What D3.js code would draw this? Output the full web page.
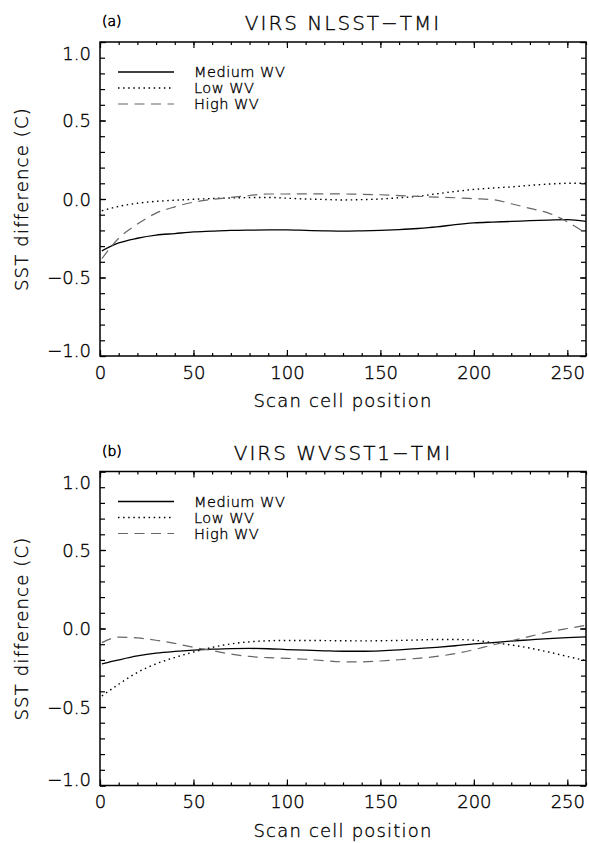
<!DOCTYPE html>
<html>
<head>
<meta charset="utf-8">
<script src="https://cdn.jsdelivr.net/npm/d3@7"></script>
<style>
  body { margin: 0; background: #fff; }
  svg text { font-family: "DejaVu Sans", "Liberation Sans", sans-serif; font-weight: 200; fill: #000; stroke: #000; stroke-width: 0.35px; }
</style>
</head>
<body>
<script>
// scan cell positions shared by every curve
var scanCells = [1, 10, 20, 30, 40, 50, 60, 70, 80, 90, 100, 110, 120, 130, 140, 150, 160, 170, 180, 190, 200, 210, 220, 230, 240, 250, 260];

// (a) VIRS NLSST-TMI
var nlsstMedium = [-0.33, -0.28, -0.25, -0.23, -0.22, -0.21, -0.205, -0.2, -0.198, -0.197, -0.197, -0.2, -0.203, -0.205, -0.203, -0.2, -0.195, -0.188, -0.178, -0.163, -0.152, -0.147, -0.143, -0.138, -0.134, -0.132, -0.143];
var nlsstLow = [-0.075, -0.047, -0.027, -0.015, -0.008, -0.002, 0.003, 0.007, 0.009, 0.01, 0.005, 0, -0.003, -0.006, -0.004, 0, 0.008, 0.017, 0.033, 0.048, 0.061, 0.07, 0.077, 0.087, 0.095, 0.1, 0.1];
var nlsstHigh = [-0.38, -0.25, -0.16, -0.09, -0.05, -0.02, -0.003, 0.01, 0.022, 0.032, 0.032, 0.033, 0.033, 0.032, 0.03, 0.027, 0.022, 0.017, 0.012, 0.008, 0.002, -0.004, -0.03, -0.06, -0.09, -0.145, -0.22];

// (b) VIRS WVSST1-TMI
var wvsstMedium = [-0.225, -0.2, -0.175, -0.157, -0.146, -0.138, -0.132, -0.128, -0.127, -0.129, -0.134, -0.138, -0.142, -0.145, -0.145, -0.142, -0.136, -0.128, -0.12, -0.11, -0.098, -0.09, -0.08, -0.072, -0.064, -0.058, -0.053];
var wvsstLow = [-0.43, -0.355, -0.28, -0.225, -0.185, -0.15, -0.12, -0.098, -0.085, -0.078, -0.076, -0.076, -0.077, -0.078, -0.079, -0.078, -0.076, -0.073, -0.07, -0.07, -0.075, -0.09, -0.105, -0.125, -0.15, -0.178, -0.205];
var wvsstHigh = [-0.09, -0.055, -0.06, -0.075, -0.095, -0.12, -0.14, -0.163, -0.178, -0.186, -0.19, -0.196, -0.205, -0.212, -0.212, -0.207, -0.199, -0.19, -0.178, -0.16, -0.135, -0.105, -0.078, -0.05, -0.022, 0, 0.02];

var legendNames = ["Medium WV", "Low WV", "High WV"];
var xMajorTicks = [0, 50, 100, 150, 200, 250];
var yMajorTicks = [-1.0, -0.5, 0.0, 0.5, 1.0];

var panels = [
  {tag: "(a)", title: "VIRS NLSST\u2212TMI", series: [nlsstMedium, nlsstLow, nlsstHigh], top: 42},
  {tag: "(b)", title: "VIRS WVSST1\u2212TMI", series: [wvsstMedium, wvsstLow, wvsstHigh], top: 471.5}
];

var styles = [
  {stroke: "#000", dash: null, width: 1.3},
  {stroke: "#000", dash: "1.5,3.6", width: 1.4},
  {stroke: "#666", dash: "10,6.5", width: 1.2}
];

var width = 589, height = 843;
var left = 100, plotW = 486, plotH = 314;

var svg = d3.select("body").append("svg").attr("width", width).attr("height", height);

var x = d3.scaleLinear().domain([0, 260]).range([0, plotW]);
var y = d3.scaleLinear().domain([-1, 1]).range([plotH, 0]);

var line = d3.line()
    .curve(d3.curveMonotoneX)
    .x(function(d){ return x(d[0]); })
    .y(function(d){ return y(d[1]); });

panels.forEach(function(p){
  var g = svg.append("g").attr("transform", "translate(" + left + "," + p.top + ")");

  // minor ticks
  g.append("g").call(d3.axisBottom(x).tickValues(d3.range(0, 261, 10)).tickSize(-3).tickSizeOuter(0).tickFormat(""))
    .attr("transform", "translate(0," + plotH + ")");
  g.append("g").call(d3.axisTop(x).tickValues(d3.range(0, 261, 10)).tickSize(-3).tickSizeOuter(0).tickFormat(""));
  g.append("g").call(d3.axisLeft(y).tickValues(d3.range(-10, 11).map(function(v){ return v / 10; })).tickSize(-5).tickSizeOuter(0).tickFormat(""));
  g.append("g").call(d3.axisRight(y).tickValues(d3.range(-10, 11).map(function(v){ return v / 10; })).tickSize(-5).tickSizeOuter(0).tickFormat(""))
    .attr("transform", "translate(" + plotW + ",0)");

  // major ticks + labels
  var xb = g.append("g").attr("transform", "translate(0," + plotH + ")")
    .call(d3.axisBottom(x).tickValues(xMajorTicks).tickSize(-6).tickSizeOuter(0).tickPadding(10).tickFormat(d3.format("d")));
  g.append("g").call(d3.axisTop(x).tickValues(xMajorTicks).tickSize(-6).tickSizeOuter(0).tickFormat(""));
  var yl = g.append("g")
    .call(d3.axisLeft(y).tickValues(yMajorTicks).tickSize(-6).tickSizeOuter(0).tickPadding(9).tickFormat(d3.format(".1f")));
  g.append("g").attr("transform", "translate(" + plotW + ",0)")
    .call(d3.axisRight(y).tickValues(yMajorTicks).tickSize(-6).tickSizeOuter(0).tickFormat(""));

  g.selectAll(".domain").remove();
  g.selectAll(".tick line").attr("stroke", "#000").attr("stroke-width", 1.2);
  xb.selectAll("text").style("font-size", "18px").attr("dy", "0.71em");
  yl.selectAll("text").style("font-size", "18px")
    .attr("dy", function(d){ return d === 1 ? "0.95em" : (d === -1 ? "0em" : "0.36em"); });

  // frame
  g.append("rect").attr("width", plotW).attr("height", plotH)
    .attr("fill", "none").attr("stroke", "#000").attr("stroke-width", 1.5);

  // curves
  p.series.forEach(function(vals, i){
    var pts = scanCells.map(function(c, k){ return [c, vals[k]]; });
    g.append("path")
      .attr("fill", "none")
      .attr("stroke", styles[i].stroke)
      .attr("stroke-width", styles[i].width)
      .attr("stroke-dasharray", styles[i].dash)
      .attr("d", line(pts));
  });

  // legend
  var leg = g.append("g").attr("transform", "translate(18,30)");
  legendNames.forEach(function(name, i){
    leg.append("line")
      .attr("x1", 0).attr("x2", 56).attr("y1", i * 16).attr("y2", i * 16)
      .attr("stroke", styles[i].stroke)
      .attr("stroke-width", styles[i].width)
      .attr("stroke-dasharray", styles[i].dash);
    leg.append("text").attr("x", 76).attr("y", i * 16 + 5)
      .style("font-size", "14.5px").style("letter-spacing", "0.5px")
      .text(name);
  });

  // titles
  g.append("text").attr("x", 2).attr("y", -16).style("font-size", "14px").style("stroke-width", "0.6px").text(p.tag);
  g.append("text").attr("x", plotW / 2).attr("y", -12).attr("text-anchor", "middle")
    .style("font-size", "20px").style("letter-spacing", "2px").text(p.title);

  // axis titles
  g.append("text").attr("x", plotW / 2).attr("y", plotH + 51).attr("text-anchor", "middle")
    .style("font-size", "18px").style("letter-spacing", "1.2px").text("Scan cell position");
  g.append("text").attr("transform", "rotate(-90)")
    .attr("x", -plotH / 2).attr("y", -72).attr("text-anchor", "middle")
    .style("font-size", "18px").style("letter-spacing", "1.2px").text("SST difference (C)");
});
</script>
</body>
</html>
